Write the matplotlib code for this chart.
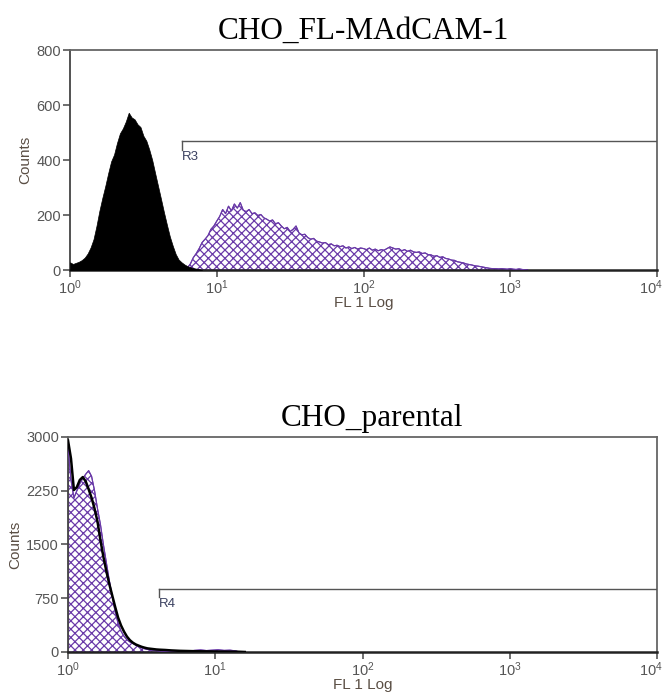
import matplotlib.pyplot as plt
import matplotlib.transforms as mtransforms
import numpy as np

plt.rcParams['font.family'] = ['Liberation Sans', 'DejaVu Sans']
plt.rcParams['mathtext.default'] = 'regular'
plt.rcParams['hatch.linewidth'] = 0.9

# --- CHO_FL-MAdCAM-1: channel positions (log10 FL1) and counts ---
top_black_log = [0.00, 0.02, 0.04, 0.06, 0.08, 0.10, 0.12, 0.14, 0.16, 0.18,
                 0.20, 0.22, 0.24, 0.26, 0.28, 0.30, 0.32, 0.34, 0.36, 0.38,
                 0.40, 0.42, 0.44, 0.46, 0.48, 0.50, 0.52, 0.54, 0.56, 0.58,
                 0.60, 0.62, 0.64, 0.66, 0.68, 0.70, 0.72, 0.74, 0.76, 0.78,
                 0.80, 0.82, 0.84, 0.86, 0.88, 0.90]
top_black_counts = [28, 22, 26, 30, 36, 45, 60, 82, 112, 160,
                    215, 262, 305, 352, 395, 420, 462, 497, 515, 540,
                    572, 555, 548, 530, 520, 488, 470, 438, 400, 352,
                    305, 258, 210, 165, 122, 88, 58, 38, 28, 20,
                    14, 10, 7, 5, 3, 0]

top_purple_log = [0.78, 0.80, 0.82, 0.84, 0.86, 0.88, 0.90, 0.92, 0.94, 0.96,
                  0.98, 1.00, 1.02, 1.04, 1.06, 1.08, 1.10, 1.12, 1.14, 1.16,
                  1.18, 1.20, 1.22, 1.24, 1.26, 1.28, 1.30, 1.32, 1.34, 1.36,
                  1.38, 1.40, 1.42, 1.44, 1.46, 1.48, 1.50, 1.52, 1.54, 1.56,
                  1.58, 1.60, 1.62, 1.64, 1.66, 1.68, 1.70, 1.72, 1.74, 1.76,
                  1.78, 1.80, 1.82, 1.84, 1.86, 1.88, 1.90, 1.92, 1.94, 1.96,
                  1.98, 2.00, 2.02, 2.04, 2.06, 2.08, 2.10, 2.12, 2.14, 2.16,
                  2.18, 2.20, 2.22, 2.24, 2.26, 2.28, 2.30, 2.32, 2.34, 2.36,
                  2.38, 2.40, 2.42, 2.44, 2.46, 2.48, 2.50, 2.52, 2.54, 2.56,
                  2.58, 2.60, 2.62, 2.64, 2.66, 2.68, 2.70, 2.72, 2.74, 2.76,
                  2.78, 2.80, 2.82, 2.84, 2.86, 2.88, 2.90, 2.92, 2.94, 2.96,
                  2.98, 3.00, 3.02, 3.04, 3.06, 3.08, 3.10, 3.12]
top_purple_counts = [0, 8, 22, 45, 60, 78, 100, 112, 125, 148,
                     160, 178, 195, 220, 205, 232, 215, 240, 225, 245,
                     218, 212, 220, 205, 208, 198, 202, 190, 185, 178,
                     182, 168, 172, 160, 150, 155, 140, 148, 160, 135,
                     128, 130, 118, 112, 115, 105, 102, 98, 100, 92,
                     95, 88, 90, 85, 88, 80, 84, 78, 82, 76,
                     80, 78, 74, 80, 72, 76, 70, 74, 72, 78,
                     84, 80, 76, 78, 70, 74, 68, 72, 66, 64,
                     66, 60, 62, 56, 55, 50, 52, 46, 48, 42,
                     40, 36, 35, 30, 28, 26, 22, 20, 18, 15,
                     14, 12, 10, 8, 6, 5, 5, 4, 5, 4,
                     3, 5, 3, 2, 4, 2, 1, 0]

# --- CHO_parental ---
bot_black_log = [0.00, 0.02, 0.04, 0.06, 0.08, 0.10, 0.12, 0.14, 0.16, 0.18,
                 0.20, 0.22, 0.24, 0.26, 0.28, 0.30, 0.32, 0.34, 0.36, 0.38,
                 0.40, 0.42, 0.44, 0.46, 0.48, 0.50, 0.52, 0.54, 0.56, 0.58,
                 0.60, 0.62, 0.64, 0.66, 0.68, 0.70, 0.72, 0.74, 0.76, 0.78,
                 0.80, 0.84, 0.88, 0.92, 0.96, 1.00, 1.05, 1.10, 1.15, 1.20]
bot_black_counts = [2950, 2700, 2260, 2300, 2400, 2440, 2380, 2270, 2150, 2000,
                    1820, 1560, 1330, 1130, 950, 790, 630, 480, 370, 285,
                    215, 165, 130, 105, 88, 72, 60, 50, 45, 40,
                    35, 32, 30, 28, 25, 22, 20, 18, 16, 15,
                    14, 12, 10, 9, 8, 7, 6, 5, 4, 0]

bot_purple_log = [0.00, 0.02, 0.04, 0.06, 0.08, 0.10, 0.12, 0.14, 0.16, 0.18,
                  0.20, 0.22, 0.24, 0.26, 0.28, 0.30, 0.32, 0.34, 0.36, 0.38,
                  0.40, 0.42, 0.44, 0.46, 0.48, 0.50, 0.52, 0.54, 0.56, 0.58,
                  0.60, 0.62, 0.64, 0.66, 0.68, 0.70, 0.74, 0.78, 0.82, 0.86,
                  0.90, 0.94, 0.98, 1.02, 1.06, 1.10, 1.14, 1.16]
bot_purple_counts = [2850, 2400, 2150, 2250, 2350, 2420, 2480, 2530, 2450, 2250,
                     2000, 1780, 1500, 1250, 1000, 780, 560, 400, 290, 220,
                     170, 140, 118, 95, 75, 58, 45, 35, 28, 22,
                     18, 14, 10, 8, 6, 4, 3, 5, 12, 22,
                     28, 20, 25, 30, 22, 25, 15, 0]

titles = ['CHO_FL-MAdCAM-1', 'CHO_parental']
title_x = [0.50, 0.516]
y_ticks = [[0, 200, 400, 600, 800], [0, 750, 1500, 2250, 3000]]
gates = [('R3', 5.77, 470, 436), ('R4', 4.17, 878, 770)]

purple = '#6a3aa8'
txt = '#555555'

fig = plt.figure(figsize=(6.67, 6.95), dpi=100)
ax1 = fig.add_axes([0.105, 0.6115, 0.880, 0.3165])
ax2 = fig.add_axes([0.102, 0.0619, 0.883, 0.3094])

# top panel
x = 10 ** np.array(top_purple_log)
ax1.fill_between(x, top_purple_counts, 0, facecolor='white', edgecolor=purple,
                 hatch='xxxx', linewidth=0.8, zorder=2)
ax1.plot(x, top_purple_counts, color=purple, lw=0.8, zorder=3)
x = 10 ** np.array(top_black_log)
ax1.fill_between(x, top_black_counts, 0, color='black', lw=0.5, zorder=4)

# bottom panel
x = 10 ** np.array(bot_purple_log)
ax2.fill_between(x, bot_purple_counts, 0, facecolor='white', edgecolor=purple,
                 hatch='xxxx', linewidth=0.8, zorder=2)
ax2.plot(x, bot_purple_counts, color=purple, lw=0.8, zorder=3)
x = 10 ** np.array(bot_black_log)
ax2.plot(x, bot_black_counts, color='black', lw=1.8, zorder=4)

shift = mtransforms.ScaledTranslation(-6 / 100, 0, fig.dpi_scale_trans)

for ax, title, tx, yt, gate in zip([ax1, ax2], titles, title_x, y_ticks, gates):
    ax.set_xscale('log')
    ax.set_xlim(1, 1e4)
    ax.set_ylim(0, yt[-1])
    ax.set_yticks(yt)
    ax.set_xticks([1, 10, 100, 1000, 10000])
    ax.minorticks_off()
    ax.tick_params(labelsize=10.5, colors=txt, length=5, width=1.2, pad=1.5)
    ax.tick_params(axis='x', pad=1)
    last = ax.get_xticklabels()[-1]
    last.set_transform(last.get_transform() + shift)
    for s in ax.spines.values():
        s.set_color('#666666')
        s.set_linewidth(1.3)
    ax.spines['bottom'].set_color('#222222')
    ax.spines['bottom'].set_linewidth(1.8)
    ax.spines['left'].set_color('#444444')
    ax.set_ylabel('Counts', fontsize=11, color='#5a4e44', labelpad=3)
    ax.set_xlabel('FL 1 Log', fontsize=11, color='#5a4e44', labelpad=-1)
    ax.set_title(title, fontsize=22.5, family='Liberation Serif', pad=8, x=tx)
    name, gx, gy, gbot = gate
    ax.plot([gx, 1e4], [gy, gy], color='#555555', lw=1.0, zorder=5)
    ax.plot([gx, gx], [gy, gbot], color='#555555', lw=1.0, zorder=5)
    ax.text(gx, gbot - yt[-1] * 0.005, name, fontsize=9.5, color='#3a4060',
            va='top', ha='left')

fig.savefig('out.png', dpi=100)
